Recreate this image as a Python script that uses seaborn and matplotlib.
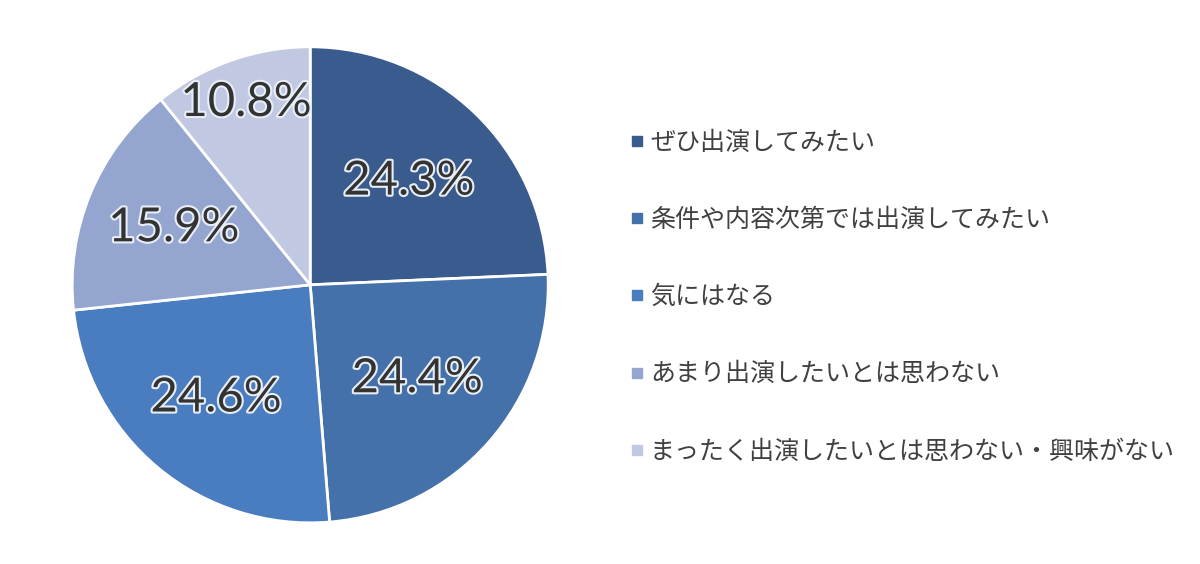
import matplotlib
matplotlib.use("Agg")
import matplotlib.pyplot as plt
import matplotlib.patheffects as pe
from matplotlib.lines import Line2D
import seaborn as sns
import numpy as np

labels = ["ぜひ出演してみたい",
          "条件や内容次第では出演してみたい",
          "気にはなる",
          "あまり出演したいとは思わない",
          "まったく出演したいとは思わない・興味がない"]
values = [24.3, 24.4, 24.6, 15.9, 10.8]
colors = ["#3A5B8D", "#4571AA", "#4A7DC0", "#94A6D0", "#C0C8E2"]
# distance of each % label from the centre (fraction of radius)
label_dist = [0.6, 0.6, 0.62, 0.62, 0.81]

sns.set_theme(style="white")
plt.rcParams['font.family'] = ['Noto Sans CJK JP', 'DejaVu Sans']

pal = sns.color_palette(colors)

fig = plt.figure(figsize=(12, 5.64), dpi=100)
ax = fig.add_axes([0.060, 0.073, 0.397, 0.844])

wedges, texts = ax.pie(values, colors=pal, startangle=90, counterclock=False,
                       wedgeprops=dict(edgecolor="white", linewidth=2))
ax.set_xlim(-1.0, 1.0)
ax.set_ylim(-1.0, 1.0)
ax.set_aspect("equal")

for w, v, d in zip(wedges, values, label_dist):
    ang = np.deg2rad((w.theta1 + w.theta2) / 2)
    ax.text(d * np.cos(ang), d * np.sin(ang), f"{v:.1f}%", ha="center", va="center",
            fontsize=34, color="#333333", family=["Lato", "DejaVu Sans"],
            path_effects=[pe.withStroke(linewidth=3, foreground="#E8EEF6")])

handles = [Line2D([], [], marker="s", linestyle="", markersize=7, color=c) for c in pal]
fig.legend(handles, labels, loc="upper left", bbox_to_anchor=(0.503, 0.81),
           frameon=False, fontsize=18, labelspacing=2.05, handletextpad=0.05,
           handlelength=0.9, labelcolor="#404040")

fig.savefig("out.png", dpi=100, facecolor="white")
